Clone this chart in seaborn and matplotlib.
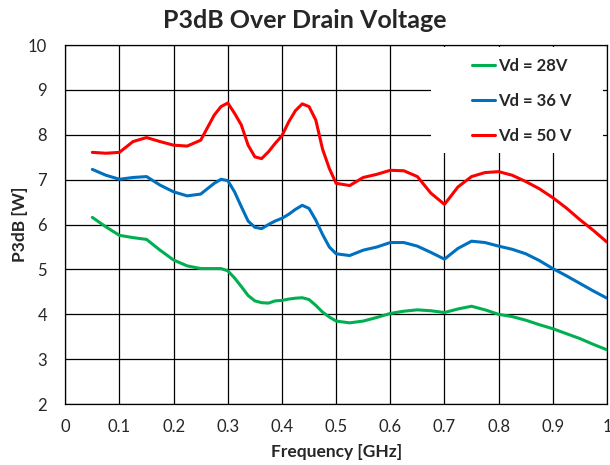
import pandas as pd
import numpy as np
from matplotlib import pyplot as plt
from matplotlib.patches import Rectangle
import seaborn as sns

freq = [0.05, 0.075, 0.1, 0.125, 0.15, 0.175, 0.2, 0.225, 0.25, 0.275,
        0.2875, 0.3, 0.3125, 0.325, 0.3375, 0.35, 0.3625, 0.375, 0.3875, 0.4,
        0.4125, 0.425, 0.4375, 0.45, 0.4625, 0.475, 0.4875, 0.5, 0.525,
        0.55, 0.575, 0.6, 0.625, 0.65, 0.675, 0.7, 0.725, 0.75, 0.775,
        0.8, 0.825, 0.85, 0.875, 0.9, 0.925, 0.95, 0.975, 1.0]

vd28 = [6.16, 5.95, 5.76, 5.71, 5.67, 5.43, 5.21, 5.08, 5.02, 5.02,
        5.02, 4.97, 4.81, 4.62, 4.42, 4.30, 4.26, 4.25, 4.30, 4.31,
        4.34, 4.36, 4.37, 4.33, 4.20, 4.05, 3.94, 3.85, 3.81,
        3.85, 3.93, 4.02, 4.07, 4.10, 4.08, 4.04, 4.12, 4.18, 4.10,
        4.00, 3.95, 3.87, 3.77, 3.68, 3.57, 3.46, 3.33, 3.21]

vd36 = [7.23, 7.10, 7.01, 7.05, 7.07, 6.88, 6.73, 6.64, 6.68, 6.92,
        7.01, 6.98, 6.73, 6.40, 6.08, 5.94, 5.91, 6.00, 6.08, 6.14,
        6.23, 6.34, 6.43, 6.36, 6.10, 5.78, 5.50, 5.35, 5.31,
        5.43, 5.50, 5.60, 5.60, 5.52, 5.38, 5.23, 5.47, 5.63, 5.60,
        5.52, 5.45, 5.35, 5.20, 5.02, 4.86, 4.69, 4.52, 4.36]

vd50 = [7.61, 7.59, 7.61, 7.85, 7.94, 7.85, 7.77, 7.75, 7.88, 8.44,
        8.63, 8.71, 8.48, 8.22, 7.77, 7.51, 7.47, 7.62, 7.81, 7.98,
        8.29, 8.54, 8.69, 8.63, 8.33, 7.68, 7.25, 6.92, 6.87,
        7.05, 7.12, 7.21, 7.20, 7.07, 6.70, 6.45, 6.84, 7.07, 7.16,
        7.18, 7.10, 6.96, 6.80, 6.60, 6.37, 6.11, 5.87, 5.61]

labels = ['Vd = 28V', 'Vd = 36 V', 'Vd = 50 V']
colors = ['#00B050', '#0070C0', '#FF0000']

df = pd.concat([
    pd.DataFrame({'freq': freq, 'p3db': vals, 'series': lab})
    for vals, lab in zip([vd28, vd36, vd50], labels)
])

sns.set_style("white")
plt.rcParams['font.family'] = ['Lato', 'DejaVu Sans']

fig, ax = plt.subplots(figsize=(6.1, 4.65), dpi=100)
fig.subplots_adjust(left=0.107, right=0.995, top=0.903, bottom=0.131)

sns.lineplot(data=df, x='freq', y='p3db', hue='series', palette=colors,
             linewidth=2.2, ax=ax, sort=False, zorder=3)

ax.set_xlim(0, 1)
ax.set_ylim(2, 10)
ax.set_xticks(np.arange(0, 1.01, 0.1))
ax.set_xticklabels(['0', '0.1', '0.2', '0.3', '0.4', '0.5', '0.6', '0.7', '0.8', '0.9', '1'])
ax.set_yticks(range(2, 11))
ax.grid(True, color='black', linewidth=0.9)
ax.set_axisbelow(True)
for s in ax.spines.values():
    s.set_color('black')
    s.set_linewidth(0.9)
ax.tick_params(axis='both', labelsize=12, length=3, color='black')
ax.tick_params(axis='y', pad=10)
ax.tick_params(axis='x', pad=8)

fig.text(0.5, 0.955, 'P3dB Over Drain Voltage', ha='center', va='center',
         fontsize=18, fontweight='bold')
ax.set_xlabel('Frequency [GHz]', fontsize=12.5, fontweight='bold', labelpad=6)
ax.set_ylabel('P3dB [W]', fontsize=12.5, fontweight='bold', labelpad=0)

# white box behind the legend, hides the grid there
ax.add_patch(Rectangle((0.675, 0.70), 0.318, 0.294, transform=ax.transAxes,
                       facecolor='white', edgecolor='none', zorder=1))

ax.legend(loc='upper left', bbox_to_anchor=(0.751, 0.965), frameon=False,
          prop={'weight': 'bold', 'size': 12}, handlelength=1.4,
          handletextpad=0.15, labelspacing=1.15, borderpad=0,
          borderaxespad=0)

plt.savefig('out.png', dpi=100)
